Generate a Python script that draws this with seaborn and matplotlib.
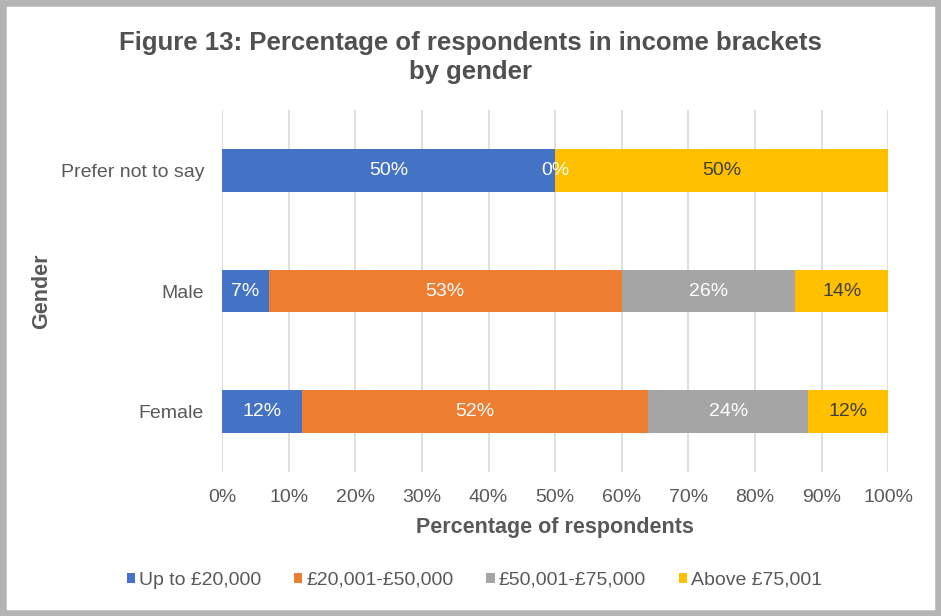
import numpy as np
import pandas as pd
import matplotlib
matplotlib.use("Agg")
import matplotlib.pyplot as plt
from matplotlib.patches import Rectangle
import seaborn as sns

# Survey results: share of respondents per income bracket, by gender
genders = ["Prefer not to say", "Male", "Female"]
brackets = ["Up to £20,000", "£20,001-£50,000", "£50,001-£75,000", "Above £75,001"]
up_to_20k = [50, 7, 12]
from_20k_to_50k = [0, 53, 52]
from_50k_to_75k = [0, 26, 24]
above_75k = [50, 14, 12]

colors = ["#4472C4", "#ED7D31", "#A5A5A5", "#FFC000"]
label_colors = ["white", "white", "white", "#404040"]
text_grey = "#595959"

sns.set_theme(style="white")
plt.rcParams["font.family"] = ["Liberation Sans", "DejaVu Sans"]

series = [up_to_20k, from_20k_to_50k, from_50k_to_75k, above_75k]
df = pd.DataFrame({b: v for b, v in zip(brackets, series)}, index=genders)
cum = df.cumsum(axis=1)

fig = plt.figure(figsize=(9.41, 6.16), dpi=100)
ax = fig.add_axes([0.236, 0.234, 0.708, 0.587])

# Stacked bars: draw cumulative totals from the outermost segment inward
for i in range(len(brackets) - 1, -1, -1):
    plot_df = pd.DataFrame({"gender": genders, "value": cum[brackets[i]].values})
    sns.barplot(data=plot_df, y="gender", x="value", color=colors[i],
                order=genders, width=0.35, saturation=1, ax=ax,
                edgecolor="none", linewidth=0, zorder=3)

# Segment value labels
for r, g in enumerate(genders):
    zero_shown = False
    for i, b in enumerate(brackets):
        v = df.loc[g, b]
        if v == 0:
            if zero_shown:
                continue
            zero_shown = True
        x = cum.loc[g, b] - v / 2
        ax.text(x, r, f"{v:.0f}%", ha="center", va="center",
                fontsize=14, color=label_colors[i], zorder=5)

ax.set_xlim(0, 100)
ax.set_ylim(2.5, -0.5)
ax.set_xticks(np.arange(0, 101, 10))
ax.set_xticklabels([f"{t}%" for t in range(0, 101, 10)])
ax.tick_params(axis="x", labelsize=14, colors=text_grey, length=0, pad=12)
ax.tick_params(axis="y", labelsize=14, colors=text_grey, length=0, pad=13)
ax.grid(axis="x", color="#D9D9D9", linewidth=1.2, zorder=0)
ax.set_axisbelow(True)
for s in ax.spines.values():
    s.set_visible(False)

ax.set_xlabel("Percentage of respondents", fontsize=15.5, fontweight="bold",
              color=text_grey, labelpad=8)
ax.set_ylabel("Gender", fontsize=15.5, fontweight="bold", color=text_grey,
              labelpad=6)

fig.text(0.5, 0.907, "Figure 13: Percentage of respondents in income brackets\nby gender",
         ha="center", va="center", fontsize=18.5, fontweight="bold",
         color="#505050", linespacing=1.25)

handles = [Rectangle((0, 0), 1, 1, facecolor=c, edgecolor="none") for c in colors]
fig.legend(handles, brackets, loc="center", bbox_to_anchor=(0.504, 0.058),
           ncol=4, frameon=False, fontsize=14, handlelength=0.42,
           handleheight=0.42, handletextpad=0.2, columnspacing=1.7,
           labelcolor=text_grey)

# Outer frame
fig.patches.append(Rectangle((0, 0), 1, 1, transform=fig.transFigure,
                             fill=False, edgecolor="#B4B4B4", linewidth=9,
                             zorder=10))

fig.savefig("out.png", dpi=100)
